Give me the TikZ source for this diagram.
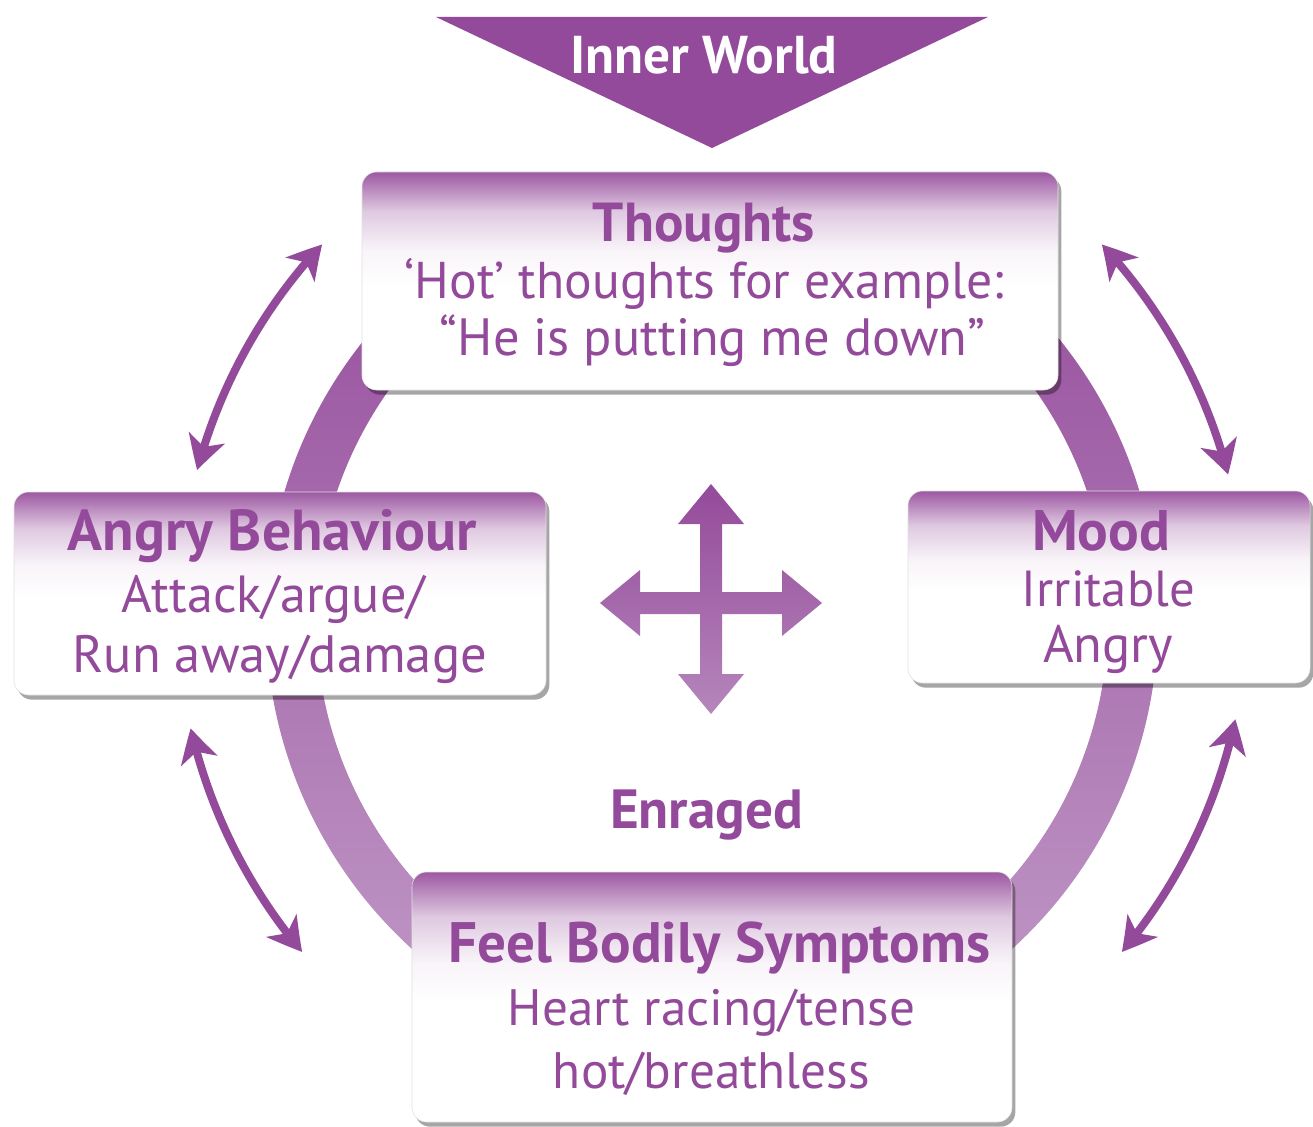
\documentclass[tikz,border=0pt]{standalone}
\usepackage{fontspec}
\setmainfont{PT Sans}
\usetikzlibrary{arrows.meta,bending,shadows,calc}
\definecolor{pur}{HTML}{944A9A}
\definecolor{ringtop}{HTML}{944A9A}
\definecolor{ringbot}{HTML}{C29CC8}
\definecolor{crossbot}{HTML}{B586BB}
\colorlet{bsA}{pur!6}
\colorlet{bsB}{pur!30}
\colorlet{bsC}{pur!92}
\pgfdeclareverticalshading{boxshade}{100bp}{color(0bp)=(white); color(49bp)=(white); color(57bp)=(bsA); color(66bp)=(bsB); color(75bp)=(bsC); color(100bp)=(bsC)}
\newlength\pxu
\setlength\pxu{0.75pt}
\newcommand\fitw[2]{\resizebox{#1\pxu}{!}{#2}}
\begin{document}
\begin{tikzpicture}[x=0.75pt,y=-0.75pt,
  box/.style={rounded corners=11pt, shade, shading=boxshade, draw=black!12, line width=0.4pt, inner sep=0pt,
    drop shadow={shadow xshift=2.5pt, shadow yshift=-3.5pt, opacity=0.35, fill=black}},
  txt/.style={text=pur, inner sep=0pt, anchor=base},
  tipS/.tip={Stealth[length=25pt,width=28pt,inset=7pt,bend]},
  dbl/.style={draw=pur, line width=6pt, tipS-tipS}]
\useasboundingbox (0,0) rectangle (1313,1127);
\fill[white] (0,0) rectangle (1313,1127);

% ring
\coordinate (C) at (712,619);
\shade[top color=ringtop, bottom color=ringbot, even odd rule]
  (C) circle[radius=446] (C) circle[radius=396];

% curved double arrows
\coordinate (Ca) at (712,608);
\coordinate (tlA) at ($(Ca)+(-137:533)$);
\coordinate (trA) at ($(Ca)+(-43:533)$);
\coordinate (blA) at ($(Ca)+(167:535)$);
\coordinate (brA) at ($(Ca)+(12:535)$);
\draw[dbl] (tlA) arc[start angle=-137, end angle=-165, radius=533];
\draw[dbl] (trA) arc[start angle=-43, end angle=-14.5, radius=533];
\draw[dbl] (blA) arc[start angle=167, end angle=140, radius=535];
\draw[dbl] (brA) arc[start angle=12, end angle=40, radius=535];

% boxes
\node[box, minimum width=696\pxu, minimum height=218\pxu] (thoughts) at (710,281) {};
\node[box, minimum width=532\pxu, minimum height=203\pxu] (angry) at (280,593.5) {};
\node[box, minimum width=402\pxu, minimum height=192\pxu] (mood) at (1109,587) {};
\node[box, minimum width=600\pxu, minimum height=250\pxu] (feel) at (712,997) {};

% box texts
\node[txt] (th0) at (704,242) {\fitw{222}{\bfseries Thoughts}};
\node[txt] (th1) at (704.5,298) {\fitw{599}{‘Hot’ thoughts for example:}};
\node[txt] (th2) at (712.5,355) {\fitw{545}{“He is putting me down”}};

\node[txt] (an0) at (272.5,550) {\fitw{409}{\bfseries Angry Behaviour}};
\node[txt] (an1) at (273.5,612) {\fitw{303}{Attack/argue/}};
\node[txt] (an2) at (280,672) {\fitw{414}{Run away/damage}};

\node[txt] (mo0) at (1101,550) {\fitw{138}{\bfseries Mood}};
\node[txt] (mo1) at (1108.5,606) {\fitw{173}{Irritable}};
\node[txt] (mo2) at (1108,662) {\fitw{130}{Angry}};

\node[txt] (fe0) at (719.5,962) {\fitw{541}{\bfseries Feel Bodily Symptoms}};
\node[txt] (fe1) at (711.5,1025) {\fitw{407}{Heart racing/tense}};
\node[txt] (fe2) at (711.5,1088) {\fitw{317}{hot/breathless}};

% centre cross
\shade[top color=pur, bottom color=crossbot]
  (700,524) -- (678,524) -- (711,484) -- (744,524) -- (722,524) -- (722,592)
  -- (782,592) -- (782,570) -- (822,603) -- (782,636) -- (782,614) -- (722,614)
  -- (722,674) -- (744,674) -- (711,714) -- (678,674) -- (700,674) -- (700,614)
  -- (640,614) -- (640,636) -- (600,603) -- (640,570) -- (640,592) -- (700,592) -- cycle;

\node[txt] (enr) at (706.5,828) {\fitw{193}{\bfseries Enraged}};

% inner world
\fill[pur] (436,17) -- (988,17) -- (712,148) -- cycle;
\node[txt, text=white] (iw) at (704,74) {\fitw{267}{\bfseries Inner World}};
\end{tikzpicture}
\end{document}
